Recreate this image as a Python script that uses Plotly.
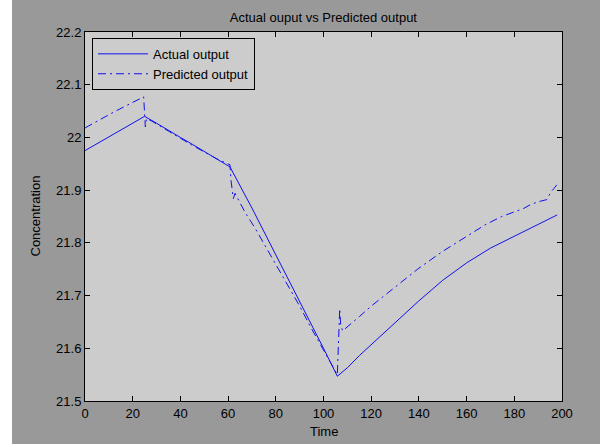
import plotly.graph_objects as go

# ---- data ----
time_actual = [0, 5, 10, 15, 20, 25, 30, 35, 40, 45, 50, 55, 60.8, 70, 80, 90, 100, 105.8,
               110, 115, 120, 125, 130, 140, 150, 160, 170, 180, 190, 198]
actual = [21.975, 21.988, 22.001, 22.014, 22.027, 22.040, 22.027, 22.013, 22.000, 21.987,
          21.973, 21.960, 21.944, 21.866, 21.778, 21.689, 21.600, 21.547,
          21.563, 21.586, 21.607, 21.628, 21.648, 21.690, 21.729, 21.762, 21.790, 21.813,
          21.835, 21.853]

time_pred = [0, 12, 24.6, 25.3, 25.8, 28, 35, 45, 55, 60.8, 61.2, 62.2, 62.9, 64.9, 67.1,
             71.3, 74.2, 80, 85, 90, 95, 100, 105.8, 106.8, 107.2, 108, 111,
             115, 120, 125, 132, 140, 150, 160, 167.7, 174.7, 178.9, 183.8, 186.6, 190,
             193.6, 195.4, 196.6, 197.8]
predicted = [22.018, 22.048, 22.077, 22.020, 22.036, 22.031, 22.012, 21.985, 21.960, 21.948,
             21.919, 21.884, 21.894, 21.878, 21.858,
             21.828, 21.805, 21.757, 21.718, 21.680, 21.637, 21.597, 21.550, 21.675, 21.645,
             21.633, 21.644,
             21.660, 21.680, 21.698, 21.724, 21.752, 21.784, 21.812, 21.834, 21.850, 21.857,
             21.865, 21.872, 21.878, 21.882, 21.897, 21.903, 21.910]

x_ticks = [0, 20, 40, 60, 80, 100, 120, 140, 160, 180, 200]
y_ticks = [21.5, 21.6, 21.7, 21.8, 21.9, 22.0, 22.1, 22.2]
y_tick_labels = ["21.5", "21.6", "21.7", "21.8", "21.9", "22", "22.1", "22.2"]

FONT = "Liberation Sans, Arial, sans-serif"
LINE_COLOR = "#1010f0"

fig = go.Figure()
fig.add_trace(go.Scatter(x=time_actual, y=actual, mode="lines", name="Actual output",
                         line=dict(color=LINE_COLOR, width=1)))
fig.add_trace(go.Scatter(x=time_pred, y=predicted, mode="lines", name="Predicted output",
                         line=dict(color=LINE_COLOR, width=1, dash="8px,4px,2px,4px")))

axis_common = dict(showline=True, linecolor="black", linewidth=1, mirror="ticks",
                   ticks="inside", ticklen=5, tickcolor="black", showgrid=False,
                   zeroline=False, automargin=False,
                   tickfont=dict(family=FONT, size=13, color="black"))

text_font = dict(family=FONT, size=13, color="black")

fig.update_layout(
    width=600, height=444,
    autosize=False,
    margin=dict(l=85, r=38, t=32, b=43, autoexpand=False),
    paper_bgcolor="#999999",
    plot_bgcolor="#cccccc",
    title=dict(text="Actual ouput vs Predicted output", x=0.539, xanchor="center",
               y=1 - 17 / 444, yanchor="middle", yref="container", font=text_font),
    xaxis=dict(range=[0, 200], tickvals=x_ticks, **axis_common),
    yaxis=dict(range=[21.5, 22.2], tickvals=y_ticks, ticktext=y_tick_labels, **axis_common),
    legend=dict(x=0.0147, y=0.984, xanchor="left", yanchor="top",
                bgcolor="#cccccc", bordercolor="black", borderwidth=1, itemwidth=50,
                font=text_font, tracegroupgap=0),
    showlegend=True,
    annotations=[
        dict(text="Time", xref="paper", yref="paper", x=0.5, y=-(432 - 401) / 369,
             xanchor="center", yanchor="middle", showarrow=False, font=text_font),
        dict(text="Concentration", xref="paper", yref="paper", x=-(85 - 35) / 477, y=0.5,
             xanchor="center", yanchor="middle", textangle=-90, showarrow=False,
             font=text_font),
    ],
)

# white strip at the left edge of the window
fig.add_shape(type="rect", xref="paper", yref="paper",
              x0=-85 / 477, x1=-73 / 477, y0=-43 / 369, y1=(369 + 32) / 369,
              fillcolor="white", line=dict(width=0), layer="above")

fig.write_html("out.html", config={"displayModeBar": False},
               post_script="document.body.style.margin='0';document.body.style.overflow='hidden';")
